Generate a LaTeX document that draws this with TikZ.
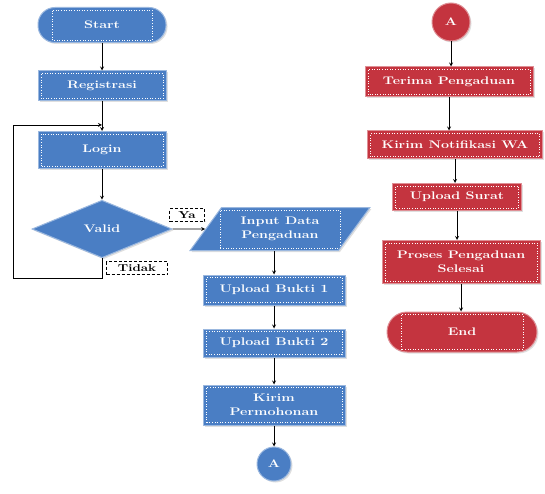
\documentclass[tikz,border=0pt]{standalone}
\usepackage{graphicx}
\usetikzlibrary{shapes.geometric}
\usetikzlibrary{shadows}
\definecolor{flowblue}{RGB}{74,126,196}
\definecolor{flowred}{RGB}{196,52,63}
\newcommand{\widetxt}[1]{\scalebox{1.3}[1]{#1}}
\tikzset{
  box/.style={rectangle, draw=#1!55!white, fill=#1, line width=1pt, text=white,
    font=\fontsize{11}{14}\selectfont\bfseries, align=center,
    drop shadow={opacity=0.25, shadow xshift=1.5pt, shadow yshift=-1.5pt}},
  dotframe/.style={path picture={\draw[white, dotted, line width=0.6pt, sharp corners]
    ([shift={(#1,2.5pt)}]path picture bounding box.south west) rectangle
    ([shift={(-#1,-2.5pt)}]path picture bounding box.north east);}},
  flow/.style={black, thick, ->, >=stealth},
  lbl/.style={draw, densely dashed, thin, fill=white, font=\fontsize{10}{12}\selectfont\bfseries,
    inner sep=1pt, minimum height=13pt}
}

\begin{document}
\begin{tikzpicture}[x=1pt, y=-1pt]
\useasboundingbox (0,0) rectangle (545,494);
% left column
\node[box=flowblue, dotframe=14pt, rounded corners=17pt, minimum width=128pt, minimum height=35pt] (start) at (102,25) {\widetxt{Start}};
\node[box=flowblue, dotframe=3pt, minimum width=128pt, minimum height=30pt] (reg) at (102,86) {\widetxt{Registrasi}};
\node[box=flowblue, dotframe=3pt, minimum width=128pt, minimum height=37pt] (login) at (102,150) {\widetxt{Login}};
\node[box=flowblue, diamond, minimum width=140pt, minimum height=57pt] (valid) at (102,229) {\widetxt{Valid}};
\coordinate (join) at (102,125);
\coordinate (loopa) at (13,278);
\draw[flow] (start) -- (reg);
\draw[flow] (reg) -- (login);
\draw[flow] (login) -- (valid);
\draw[black, thick, ->, >=stealth] (valid.south) |- (loopa) |- (join);
% middle column
\node[box=flowblue, dotframe=30pt, trapezium, trapezium left angle=53, trapezium right angle=127,
  trapezium stretches=true, minimum width=180pt, minimum height=43pt] (input) at (280,229) {\widetxt{Input Data}\\\widetxt{Pengaduan}};
\node[box=flowblue, dotframe=3pt, minimum width=142pt, minimum height=30pt] (up1) at (274,290) {\widetxt{Upload Bukti 1}};
\node[box=flowblue, dotframe=3pt, minimum width=142pt, minimum height=28pt] (up2) at (274,343) {\widetxt{Upload Bukti 2}};
\node[box=flowblue, dotframe=3pt, minimum width=142pt, minimum height=40pt] (kirim) at (274,405) {\widetxt{Kirim}\\\widetxt{Permohonan}};
\node[box=flowblue, circle, minimum size=34pt, inner sep=0pt] (a1) at (274,464) {\widetxt{A}};
\draw[flow] (valid) -- (input);
\draw[flow] (up1 |- input.south) -- (up1);
\draw[flow] (up1) -- (up2);
\draw[flow] (up2) -- (kirim);
\draw[flow] (kirim) -- (a1);
% right column
\node[box=flowred, circle, minimum size=38pt, inner sep=0pt] (a2) at (451,22) {\widetxt{A}};
\node[box=flowred, dotframe=3pt, minimum width=168pt, minimum height=30pt] (terima) at (449,82) {\widetxt{Terima Pengaduan}};
\node[box=flowred, dotframe=3pt, minimum width=175pt, minimum height=28pt] (notif) at (455,145) {\widetxt{Kirim Notifikasi WA}};
\node[box=flowred, dotframe=3pt, minimum width=129pt, minimum height=27pt] (surat) at (457,197) {\widetxt{Upload Surat}};
\node[box=flowred, dotframe=3pt, minimum width=158pt, minimum height=43pt] (proses) at (461,262) {\widetxt{Proses Pengaduan}\\\widetxt{Selesai}};
\node[box=flowred, dotframe=14pt, rounded corners=20pt, minimum width=150pt, minimum height=40pt] (end) at (462,332) {\widetxt{End}};
\draw[flow] (a2) -- (a2 |- terima.north);
\draw[flow] (terima) -- (terima |- notif.north);
\draw[flow] (notif) -- (notif |- surat.north);
\draw[flow] (surat) -- (surat |- proses.north);
\draw[flow] (proses) -- (proses |- end.north);
% labels
\node[lbl, minimum width=35pt] (ya) at (187,215) {\widetxt{Ya}};
\node[lbl, minimum width=61pt] (tidak) at (137,268) {\widetxt{Tidak}};
\end{tikzpicture}
\end{document}
